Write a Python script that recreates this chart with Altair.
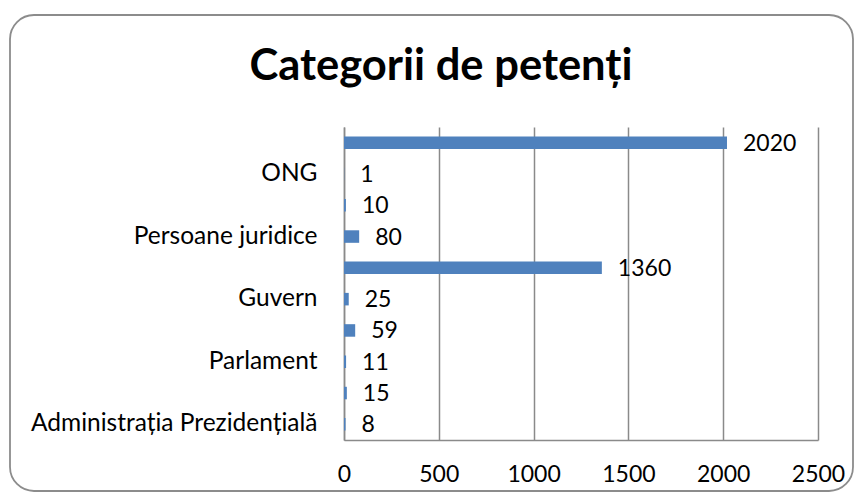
import json
import altair as alt
import pandas as pd

# ---- data (bottom -> top) ----
categories = ["Administrația Prezidențială", "", "Parlament", "", "Guvern", "",
              "Persoane juridice", "", "ONG", ""]
values = [8, 15, 11, 59, 25, 1360, 80, 10, 1, 2020]
x_ticks = [0, 500, 1000, 1500, 2000, 2500]
title_text = "Categorii de petenți"

df = pd.DataFrame({"idx": list(range(len(values))), "value": values})
label_expr = json.dumps(categories, ensure_ascii=False) + "[datum.value]"

FONT = "Lato"
GRAY = "#8a8a8a"
FS = 23

y_enc = alt.Y(
    "idx:O",
    sort="descending",
    scale=alt.Scale(paddingInner=0.6, paddingOuter=0.3),
    axis=alt.Axis(
        labelExpr=label_expr, title=None, ticks=False, domainColor=GRAY,
        domainWidth=1.5, labelPadding=27, labelFontSize=24.5, labelFont=FONT,
        labelColor="black", grid=False, labelLimit=400,
    ),
)
x_enc = alt.X(
    "value:Q",
    scale=alt.Scale(domain=[0, 2500], nice=False),
    axis=alt.Axis(
        values=x_ticks, format="d", title=None, ticks=False, domainColor=GRAY,
        domainWidth=1.5, grid=True, gridColor=GRAY, gridWidth=1.5, labelPadding=23,
        labelFontSize=FS, labelFont=FONT, labelColor="black", labelFlush=False,
        labelAlign="center",
    ),
)

frame = alt.Chart(pd.DataFrame({"a": [0]})).mark_rect(
    cornerRadius=24, fillOpacity=0, stroke="#8c8c8c", strokeWidth=1.8
).encode(
    x=alt.value(-334), x2=alt.value(509), y=alt.value(-112), y2=alt.value(364)
)

title = alt.Chart(pd.DataFrame({"t": [title_text]})).mark_text(
    font=FONT, fontSize=43.5, fontWeight="bold", color="black",
    align="center", baseline="alphabetic"
).encode(text="t:N", x=alt.value(97), y=alt.value(-47))

bars = alt.Chart(df).mark_bar(color="#4f81bd").encode(x=x_enc, y=y_enc)

labels = alt.Chart(df).mark_text(
    align="left", baseline="middle", dx=16, dy=1, font=FONT, fontSize=FS, color="black"
).encode(x="value:Q", y=alt.Y("idx:O", sort="descending"), text="value:Q")

chart = alt.layer(frame, title, bars, labels).properties(
    width=474, height=313,
    autosize=alt.AutoSizeParams(type="none"),
    padding={"left": 336, "top": 119, "right": 36, "bottom": 52},
).configure_view(stroke=None)

chart.save("out.html", embed_options={"renderer": "svg", "actions": False})
